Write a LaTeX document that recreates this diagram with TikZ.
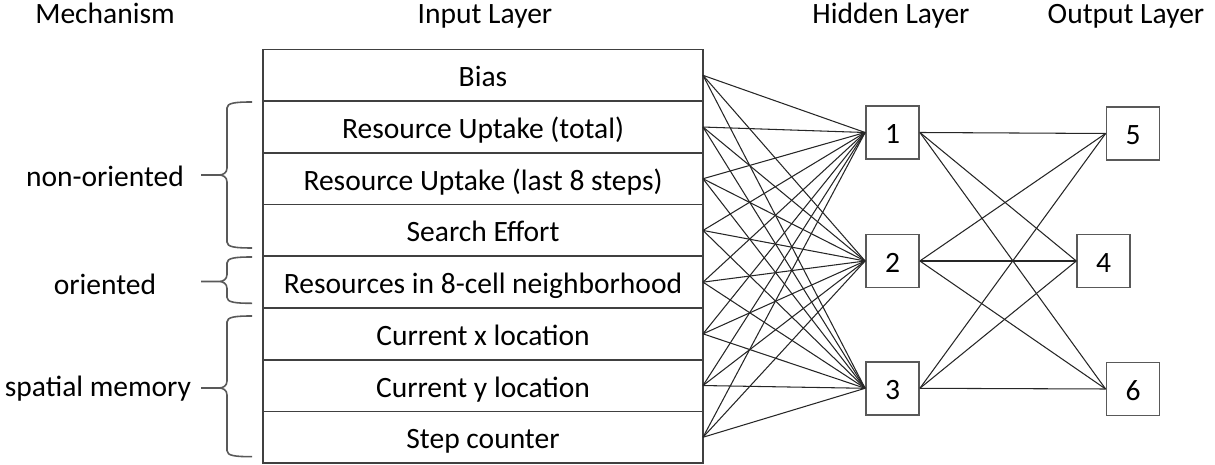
\documentclass[tikz,border=0pt]{standalone}
\usepackage{fontspec}
\setmainfont{Carlito}
\usetikzlibrary{positioning}
\tikzset{
	net font/.style={font=\fontsize{8.4}{10}\selectfont},
	layer title/.style={net font,anchor=base},
	input cell/.style={net font,draw=black!75,line width=0.5pt,minimum width=4.4cm,
		minimum height=0.517cm,inner sep=0pt,outer sep=0pt,text height=0.3cm,text depth=0.07cm},
	unit/.style={net font,draw=black!65,line width=0.5pt,minimum size=0.53cm,
		inner sep=0pt,text height=0.3cm,text depth=0.07cm},
	weight/.style={black!85,line width=0.3pt},
	mech brace/.style={black!65,line width=0.45pt},
}

\begin{document}
\begin{tikzpicture}
		\useasboundingbox (0,0) rectangle (12.15,4.65);
		% column titles
		\node[layer title] (tmech) at (1.05,4.41) {Mechanism};
		\node[layer title] (tin) at (4.85,4.41) {Input Layer};
		\node[layer title] (thid) at (8.91,4.41) {Hidden Layer};
		\node[layer title] (tout) at (11.26,4.41) {Output Layer};
		% input layer
		\foreach \txt [count=\i] in {Bias,Resource Uptake (total),Resource Uptake (last 8 steps),
			Search Effort,Resources in 8-cell neighborhood,Current x location,
			Current y location,Step counter}
		\node[input cell] (in\i) at (4.83,{3.8965-0.517*(\i-1)}) {\txt};
		% hidden and output units
		\node[unit] (hid1) at (8.925,3.325) {1};
		\node[unit] (hid2) at (8.925,2.04) {2};
		\node[unit] (hid3) at (8.925,0.767) {3};
		\node[unit] (out5) at (11.33,3.315) {5};
		\node[unit] (out4) at (11.037,2.04) {4};
		\node[unit] (out6) at (11.33,0.76) {6};
		\foreach \i in {1,...,8}
		\foreach \h in {1,2,3}
		\draw[weight] (in\i.east) -- (hid\h.west);
		\foreach \h in {1,2,3}
		\foreach \o in {4,5,6}
		\draw[weight] (hid\h.east) -- (out\o.west);
		% mechanism braces
		\foreach \t/\m/\b in {3.63/2.90/2.17,2.08/1.835/1.617,1.49/0.77/0.083}
		\draw[mech brace] (2.52,\t) .. controls (2.35,\t) and (2.27,\t-0.01) .. (2.27,\t-0.06)
		-- (2.27,\m+0.07) .. controls (2.27,\m+0.02) and (2.23,\m) .. (2.19,\m) -- (2.01,\m)
		(2.19,\m) .. controls (2.23,\m) and (2.27,\m-0.02) .. (2.27,\m-0.07)
		-- (2.27,\b+0.06) .. controls (2.27,\b+0.01) and (2.35,\b) .. (2.52,\b);
		\node[layer title] (nonori) at (1.05,2.78) {non-oriented};
		\node[layer title] (ori) at (1.05,1.70) {oriented};
		\node[layer title] (spat) at (0.98,0.68) {spatial memory};
\end{tikzpicture}
\end{document}
